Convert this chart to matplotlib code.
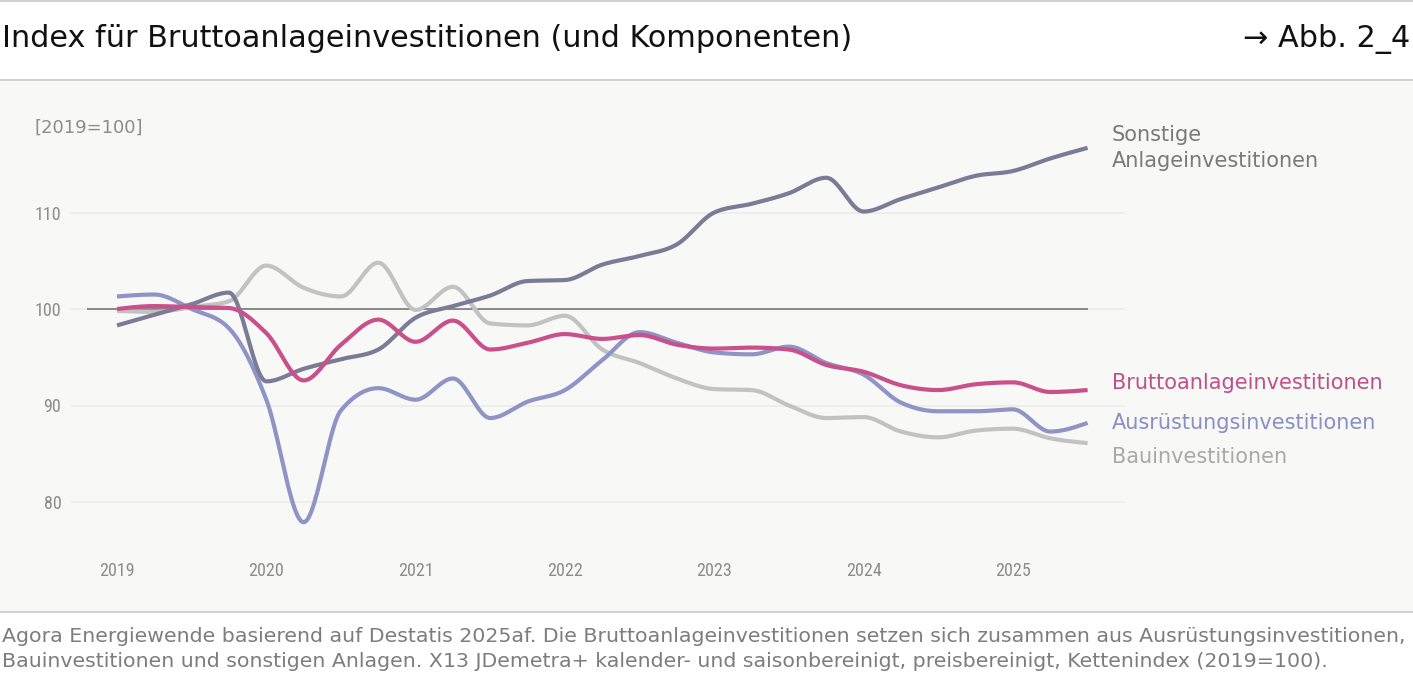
import numpy as np
import matplotlib
matplotlib.use("Agg")
import matplotlib.pyplot as plt
from matplotlib.patches import Rectangle
from matplotlib import font_manager

W, H = 1413, 687

# quarterly values 2019Q1 .. 2025Q3, index 2019=100
quarters = np.arange(27)
sonstige = [98.3, 99.4, 100.5, 101.7, 92.5, 93.8, 94.8, 95.8, 99.1, 100.3,
            101.4, 102.9, 103.0, 104.6, 105.5, 106.7, 110.0, 110.9, 112.0, 113.6,
            110.1, 111.4, 112.6, 113.8, 114.3, 115.6, 116.7]
brutto = [100.0, 100.3, 100.2, 100.1, 97.5, 92.6, 96.3, 98.9, 96.6, 98.8,
          95.8, 96.5, 97.4, 96.9, 97.3, 96.3, 95.9, 96.0, 95.8, 94.2,
          93.5, 92.1, 91.6, 92.2, 92.4, 91.4, 91.6]
ausruestung = [101.3, 101.5, 100.0, 98.0, 90.6, 77.9, 89.5, 91.8, 90.6, 92.8,
               88.7, 90.4, 91.6, 94.7, 97.6, 96.5, 95.5, 95.3, 96.1, 94.4,
               93.2, 90.3, 89.4, 89.4, 89.6, 87.3, 88.2]
bau = [99.8, 99.7, 100.2, 100.8, 104.5, 102.2, 101.3, 104.8, 99.9, 102.3,
       98.5, 98.3, 99.3, 95.8, 94.4, 92.8, 91.7, 91.6, 90.0, 88.7,
       88.8, 87.3, 86.7, 87.4, 87.6, 86.6, 86.1]

years = ['2019', '2020', '2021', '2022', '2023', '2024', '2025']
yticks = [80, 90, 100, 110]

title = "Index für Bruttoanlageinvestitionen (und Komponenten)"
footer1 = ("Agora Energiewende basierend auf Destatis 2025af. Die Bruttoanlageinvestitionen "
           "setzen sich zusammen aus Ausrüstungsinvestitionen,")
footer2 = ("Bauinvestitionen und sonstigen Anlagen. X13 JDemetra+ kalender- und saisonbereinigt, "
           "preisbereinigt, Kettenindex (2019=100).")

# pick a narrow font if one is there
installed = {f.name for f in font_manager.fontManager.ttflist}
NARROW = 'DejaVu Sans'
for cand in ['Liberation Sans Narrow', 'DejaVu Sans Condensed', 'Roboto Condensed', 'Roboto']:
    if cand in installed:
        NARROW = cand
        break
small = 13 if 'Narrow' in NARROW or 'Condensed' in NARROW else 11.5


def monotone(x, y, n=24):
    # monotone cubic curve (Steffen), like d3 curveMonotoneX
    x = np.asarray(x, float)
    y = np.asarray(y, float)
    h = np.diff(x)
    s = np.diff(y) / h
    m = np.zeros_like(y)
    for i in range(1, len(y) - 1):
        p = (s[i - 1] * h[i] + s[i] * h[i - 1]) / (h[i - 1] + h[i])
        m[i] = (np.sign(s[i - 1]) + np.sign(s[i])) * min(abs(s[i - 1]), abs(s[i]), 0.5 * abs(p))
    m[0] = (3 * s[0] - m[1]) / 2
    m[-1] = (3 * s[-1] - m[-2]) / 2
    xs, ys = [], []
    u = np.linspace(0, 1, n, endpoint=False)
    for i in range(len(y) - 1):
        h00 = 2 * u**3 - 3 * u**2 + 1
        h10 = u**3 - 2 * u**2 + u
        h01 = -2 * u**3 + 3 * u**2
        h11 = u**3 - u**2
        xs.append(x[i] + u * h[i])
        ys.append(h00 * y[i] + h10 * h[i] * m[i] + h01 * y[i + 1] + h11 * h[i] * m[i + 1])
    xs.append([x[-1]])
    ys.append([y[-1]])
    return np.concatenate(xs), np.concatenate(ys)


def fpos(x, y):
    return x / W, 1 - y / H


def fit_width(texts, target, renderer):
    # scale font size so the first text spans target pixels
    w = texts[0].get_window_extent(renderer).width
    fs = texts[0].get_fontsize() * target / w
    for t in texts:
        t.set_fontsize(fs)


fig = plt.figure(figsize=(W / 100, H / 100), dpi=100)
fig.patch.set_facecolor('white')
renderer = fig.canvas.get_renderer()

# plot area background and separator lines
fig.add_artist(Rectangle(fpos(0, 612), 1, (612 - 80) / H, transform=fig.transFigure,
                         facecolor='#f8f8f7', edgecolor='none', zorder=0))
for yy in [0.5, 80, 612]:
    fig.add_artist(plt.Line2D([0, 1], [1 - yy / H] * 2, transform=fig.transFigure,
                              color='#c8c8c8', lw=1.2))

ax = fig.add_axes([71 / W, (H - 540) / H, (1125 - 71) / W, 440 / H])
ax.set_facecolor('none')
ax.set_xlim(-46 / 37.33, 1008 / 37.33)
ax.set_ylim(100 - 231 / 9.65, 100 + 209 / 9.65)
for sp in ax.spines.values():
    sp.set_visible(False)

for v in yticks:
    ax.axhline(v, color='#ebebea', lw=1.2, zorder=1)
ax.hlines(100, -0.8, quarters[-1], color='#6e6e6e', lw=1.1, zorder=2)

ax.set_xticks(quarters[::4])
ax.set_xticklabels(years, family=NARROW, fontsize=small, color='#8c8c8c')
ax.set_yticks(yticks)
ax.set_yticklabels([str(v) for v in yticks], family=NARROW, fontsize=small, color='#8c8c8c')
ax.tick_params(axis='x', length=0, pad=16)
ax.tick_params(axis='y', length=0, pad=7)

series = [
    (bau, '#c2c2c2', 3),
    (ausruestung, '#8f94c6', 4),
    (sonstige, '#7b7b98', 5),
    (brutto, '#c9508b', 6),
]
for vals, col, z in series:
    xs, ys = monotone(quarters, vals)
    ax.plot(xs, ys, color=col, lw=3, solid_capstyle='butt', zorder=z)

# texts
fig.text(*fpos(2, 47), title, fontsize=21.8, color='#111111', va='baseline', ha='left')
fig.text(*fpos(1410, 47), "→ Abb. 2_4", fontsize=21.8, color='#111111', va='baseline', ha='right')
fig.text(*fpos(35, 133), "[2019=100]", fontsize=13, color='#8c8c8c', va='baseline')

fig.text(*fpos(1112, 141), "Sonstige", fontsize=15, color='#7a7a7a', va='baseline')
fig.text(*fpos(1112, 167), "Anlageinvestitionen", fontsize=15, color='#7a7a7a', va='baseline')
fig.text(*fpos(1112, 389), "Bruttoanlageinvestitionen", fontsize=15, color='#c0508a', va='baseline')
fig.text(*fpos(1112, 429), "Ausrüstungsinvestitionen", fontsize=15, color='#8a8fc4', va='baseline')
fig.text(*fpos(1112, 463), "Bauinvestitionen", fontsize=15, color='#a9a9a9', va='baseline')

# footer, sized so the first line spans about 1403 px like the original
f1 = fig.text(*fpos(2, 642), footer1, fontsize=14, color='#7d7d7d', va='baseline')
f2 = fig.text(*fpos(2, 667), footer2, fontsize=14, color='#7d7d7d', va='baseline')
fit_width([f1, f2], 1403, renderer)

fig.savefig('out.png', dpi=100, facecolor='white')
